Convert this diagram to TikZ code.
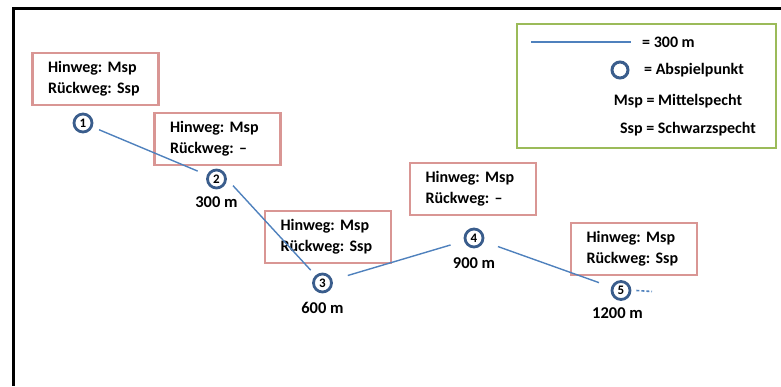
\documentclass[tikz,border=0pt]{standalone}
\usepackage{fontspec}
\setmainfont{Carlito}
\usepackage{tikz}
\usetikzlibrary{positioning}
\definecolor{ringblue}{HTML}{3A5D8C}
\definecolor{lineblue}{HTML}{4F81BD}
\definecolor{boxred}{HTML}{D99694}
\definecolor{boxgreen}{HTML}{9BBB59}
\tikzset{
  info/.style={draw=boxred, line width=2.6pt, minimum width=126pt, minimum height=52pt,
    text width=95pt, align=left, inner sep=0pt, font=\fontsize{16}{21}\selectfont\bfseries},
  spot/.style={circle, draw=ringblue, line width=2.8pt, fill=white, minimum size=18pt,
    inner sep=0pt, font=\fontsize{13}{13}\selectfont\bfseries},
  dist/.style={font=\fontsize{16.5}{16}\selectfont\bfseries, inner sep=0pt},
  link/.style={draw=lineblue, line width=1.4pt, shorten >=10pt, shorten <=10pt},
  legtext/.style={font=\fontsize{16}{16}\selectfont\bfseries, inner sep=0pt}
}
\begin{document}
\frenchspacing
\begin{tikzpicture}[x=1pt, y=-1pt]
  \useasboundingbox (0,0) rectangle (781,386);
  % frame
  \draw[line width=3pt] (781,8) -- (13,8) -- (13,386);
  % info boxes
  \node[info] (b1) at (95.5,79) {Hinweg: Msp\\Rückweg: Ssp};
  \node[info] (b2) at (217.5,139) {Hinweg: Msp\\Rückweg: --};
  \node[info] (b3) at (328,237) {Hinweg: Msp\\Rückweg: Ssp};
  \node[info] (b4) at (473,189) {Hinweg: Msp\\Rückweg: --};
  \node[info] (b5) at (634,249) {Hinweg: Msp\\Rückweg: Ssp};
  % playback points
  \node[spot] (c1) at (83,123) {1};
  \node[spot] (c2) at (216.5,179) {2};
  \node[spot] (c3) at (322.5,283) {3};
  \node[spot] (c4) at (474,238) {4};
  \node[spot] (c5) at (621,290.5) {5};
  % distances
  \node[dist, below=7pt of c2] (d2) {300 m};
  \node[dist, below=9pt of c3] (d3) {600 m};
  \node[dist, below=9pt of c4] (d4) {900 m};
  \node[dist, below=7pt of c5, xshift=-3.5pt] (d5) {1200 m};
  % route
  \draw[link, shorten <=7pt] (c1) -- (c2);
  \draw[link, shorten <=9pt, shorten >=7pt] (c2.east) -- (c3);
  \draw[link, shorten <=16pt, shorten >=14pt] (c3) -- (c4);
  \draw[link, shorten <=15pt, shorten >=13pt] (c4) -- (c5);
  \coordinate (tail) at (652,291.5);
  \draw[draw=lineblue, line width=1.6pt, dash pattern=on 3pt off 2pt] ([xshift=5pt]c5.east) -- (tail);
  % legend
  \node[draw=boxgreen, line width=2.6pt, minimum width=259pt, minimum height=124pt, inner sep=0pt]
    (leg) at (646.5,86) {};
  \coordinate (l1) at (531,42);
  \coordinate (l2) at (631,42);
  \draw[draw=lineblue, line width=1.2pt] (l1) -- (l2);
  \node[legtext, anchor=west] (t1) at (642,42) {= 300 m};
  \node[spot, minimum size=16pt, line width=3pt] (c0) at (620,70) {};
  \node[legtext, anchor=west] (t2) at (644,70) {= Abspielpunkt};
  \node[legtext] (t3) at (678,101) {Msp = Mittelspecht};
  \node[legtext] (t4) at (688,129) {Ssp = Schwarzspecht};
\end{tikzpicture}
\end{document}
